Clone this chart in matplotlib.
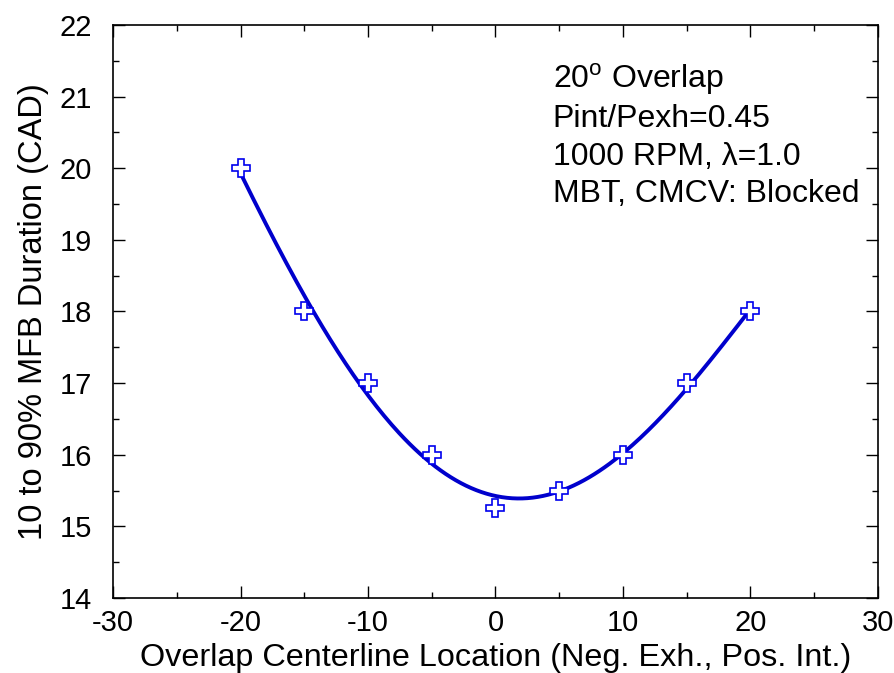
import numpy as np
import matplotlib
matplotlib.use("Agg")
import matplotlib.pyplot as plt

plt.rcParams['font.family'] = ['Liberation Sans', 'DejaVu Sans']
plt.rcParams['mathtext.fontset'] = 'custom'
plt.rcParams['mathtext.rm'] = 'Liberation Sans'
plt.rcParams['axes.unicode_minus'] = False

overlap_cl = [-20, -15, -10, -5, 0, 5, 10, 15, 20]
mfb_dur = [20.0, 18.0, 17.0, 16.0, 15.25, 15.5, 16.0, 17.0, 18.0]
fit_deg = 4

fig = plt.figure(figsize=(8.94, 6.73), dpi=100)
ax = fig.add_axes([0.1264, 0.1114, 0.8557, 0.8515])

# polynomial fit through the measured points
coef = np.polyfit(overlap_cl, mfb_dur, fit_deg)
xf = np.linspace(min(overlap_cl), max(overlap_cl), 200)
ax.plot(xf, np.polyval(coef, xf), color='#0000cc', lw=2.8, zorder=2)
ax.plot(overlap_cl, mfb_dur, ls='none', marker='P', ms=13, mfc='white',
        mec='#0000ee', mew=1.2, zorder=3)

ax.set_xlim(-30, 30)
ax.set_ylim(14, 22)
ax.set_xticks(np.arange(-30, 31, 10))
ax.set_xticks(np.arange(-25, 30, 10), minor=True)
ax.set_yticks(np.arange(14, 23, 1))
ax.set_yticks(np.arange(14.5, 22, 1), minor=True)
ax.tick_params(which='both', direction='in', top=True, right=True, labelsize=21)
ax.tick_params(which='major', length=8.6, width=1)
ax.tick_params(which='minor', length=4.5, width=1)
ax.tick_params(axis='x', pad=8)
ax.tick_params(axis='y', pad=15)
for s in ax.spines.values():
    s.set_linewidth(1.2)

ax.set_xlabel("Overlap Centerline Location (Neg. Exh., Pos. Int.)", fontsize=23.3, labelpad=4)
ax.set_ylabel("10 to 90% MFB Duration (CAD)", fontsize=23.5, labelpad=8)

# va='baseline' lines up the last line of the block
ax.text(0.575, 0.691, "20$^{\\mathrm{o}}$ Overlap\nPint/Pexh=0.45\n1000 RPM, \u03bb=1.0\nMBT, CMCV: Blocked",
        transform=ax.transAxes, fontsize=23, va='baseline', ha='left', linespacing=1.32)

fig.savefig("out.png", dpi=100)
